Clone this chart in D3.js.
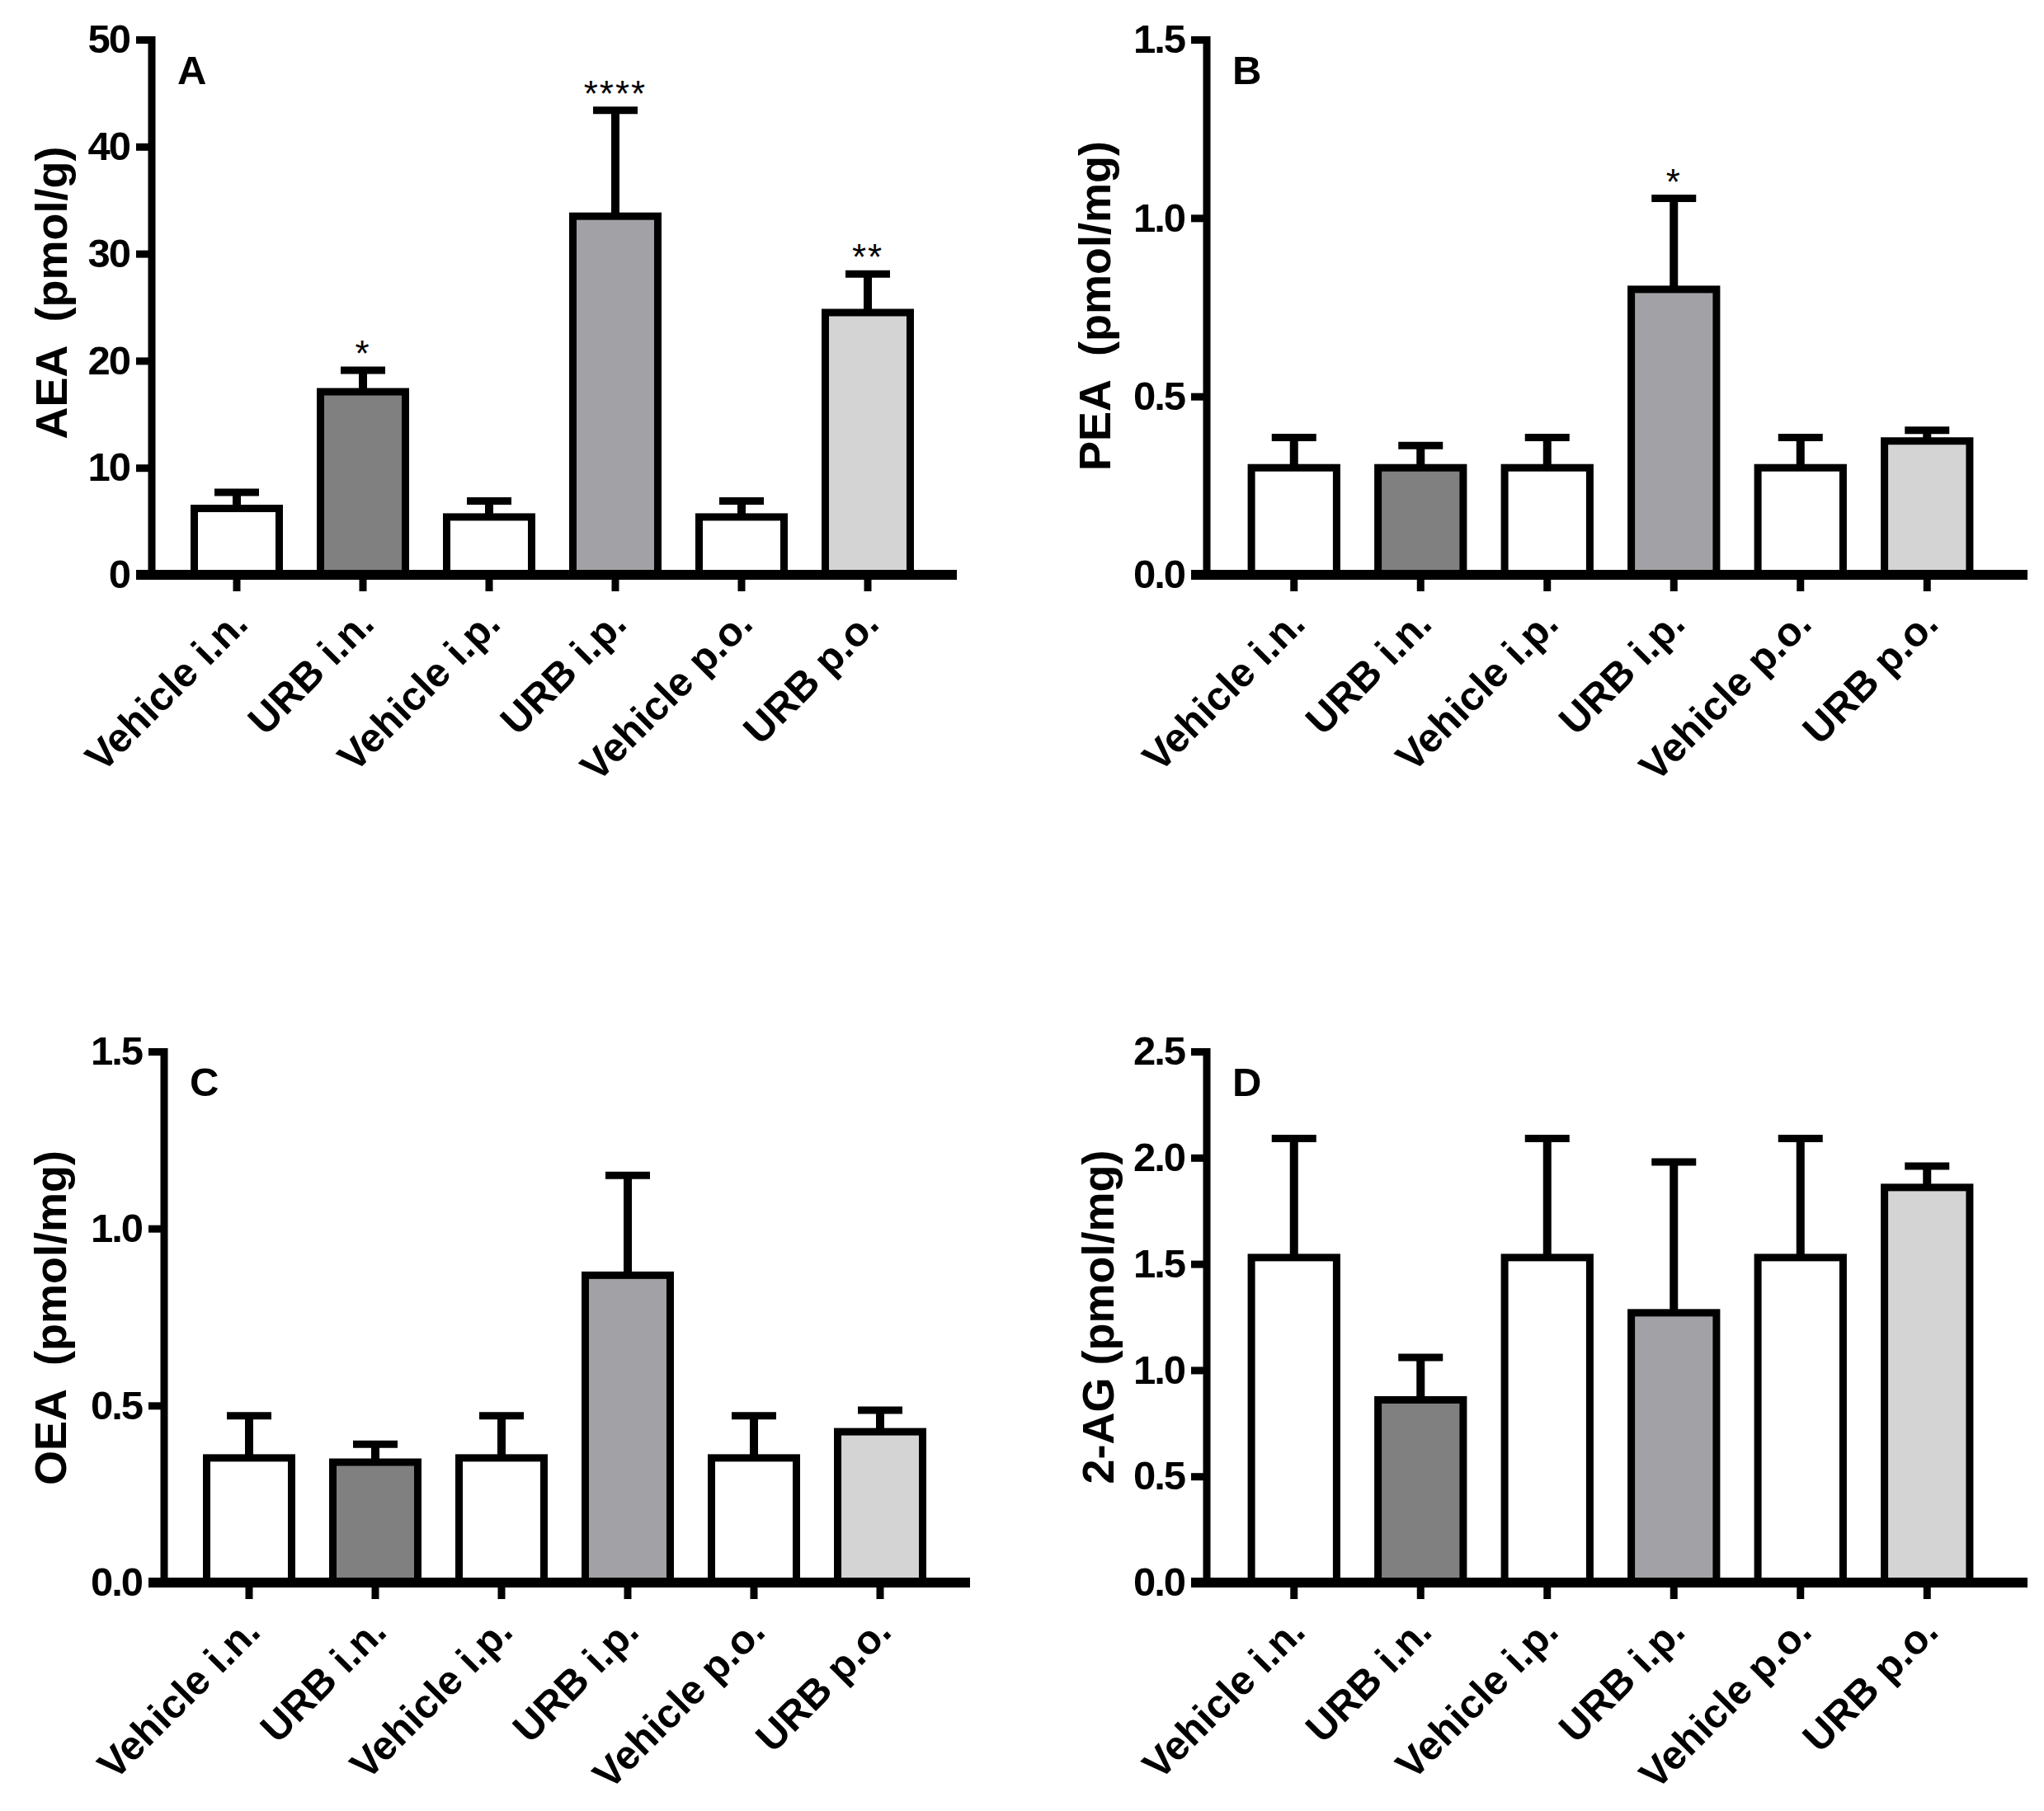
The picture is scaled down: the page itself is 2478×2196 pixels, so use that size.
<!DOCTYPE html>
<html>
<head>
<meta charset="utf-8">
<script src="https://cdn.jsdelivr.net/npm/d3@7"></script>
<style>
  html, body { margin: 0; padding: 0; background: #ffffff; }
  svg { display: block; }
  text { font-family: "Liberation Sans", Arial, Helvetica, sans-serif; fill: #000; }
</style>
</head>
<body>
<svg id="chart" width="2478" height="2196"></svg>
<script>
// ---------------- data ----------------
const categories = ["Vehicle i.n.", "URB i.n.", "Vehicle i.p.", "URB i.p.", "Vehicle p.o.", "URB p.o."];
const barColors = ["#ffffff", "#808080", "#ffffff", "#a2a2a6", "#ffffff", "#d4d4d4"];

// AEA (pmol/g) - panel A
const aeaMeans = [6.2, 17.1, 5.4, 33.5, 5.4, 24.5];
const aeaUpper = [7.7, 19.1, 6.9, 43.4, 6.9, 28.1];
const aeaStars = ["", "*", "", "****", "", "**"];
const aeaTicks = [0, 10, 20, 30, 40, 50];

// PEA (pmol/mg) - panel B
const peaMeans = [0.30, 0.30, 0.30, 0.80, 0.30, 0.375];
const peaUpper = [0.385, 0.362, 0.385, 1.055, 0.385, 0.405];
const peaStars = ["", "", "", "*", "", ""];
const peaTicks = [0.0, 0.5, 1.0, 1.5];

// OEA (pmol/mg) - panel C
const oeaMeans = [0.352, 0.340, 0.352, 0.868, 0.352, 0.426];
const oeaUpper = [0.471, 0.391, 0.471, 1.150, 0.471, 0.487];
const oeaStars = ["", "", "", "", "", ""];
const oeaTicks = [0.0, 0.5, 1.0, 1.5];

// 2-AG (pmol/mg) - panel D
const agMeans = [1.53, 0.86, 1.53, 1.27, 1.53, 1.86];
const agUpper = [2.09, 1.06, 2.09, 1.98, 2.09, 1.96];
const agStars = ["", "", "", "", "", ""];
const agTicks = [0.0, 0.5, 1.0, 1.5, 2.0, 2.5];

// ---------------- panels ----------------
const panels = [
  { letter: "A", title: "AEA  (pmol/g)", means: aeaMeans, upper: aeaUpper, stars: aeaStars, ticks: aeaTicks, fmt: d3.format("d"),
    axisX: 184, yTop: 48, yZero: 697, bandStart: 210.5, step: 153, xEnd: 1160, titleX: 81, titleY: 355 },
  { letter: "B", title: "PEA  (pmol/mg)", means: peaMeans, upper: peaUpper, stars: peaStars, ticks: peaTicks, fmt: d3.format(".1f"),
    axisX: 1463, yTop: 48, yZero: 697, bandStart: 1492, step: 153.5, xEnd: 2458, titleX: 1346, titleY: 371 },
  { letter: "C", title: "OEA  (pmol/mg)", means: oeaMeans, upper: oeaUpper, stars: oeaStars, ticks: oeaTicks, fmt: d3.format(".1f"),
    axisX: 199, yTop: 1275, yZero: 1919, bandStart: 225.5, step: 153, xEnd: 1176, titleX: 80, titleY: 1598 },
  { letter: "D", title: "2-AG (pmol/mg)", means: agMeans, upper: agUpper, stars: agStars, ticks: agTicks, fmt: d3.format(".1f"),
    axisX: 1463, yTop: 1275, yZero: 1919, bandStart: 1492, step: 153.5, xEnd: 2458, titleX: 1350, titleY: 1597 }
];

const svg = d3.select("#chart");
svg.append("rect").attr("width", 2478).attr("height", 2196).attr("fill", "#fff");

const BAR_STROKE = 9;
const CAP_W = 54;

panels.forEach(p => {
  const g = svg.append("g");
  const yMax = p.ticks[p.ticks.length - 1];
  const y = d3.scaleLinear().domain([0, yMax]).range([p.yZero, p.yTop]);
  const x = d3.scaleBand().domain(categories)
    .range([p.bandStart, p.bandStart + p.step * categories.length])
    .paddingInner(0.327).paddingOuter(0.1635);

  const rows = categories.map((c, i) => ({ cat: c, mean: p.means[i], upper: p.upper[i], star: p.stars[i], color: barColors[i] }));

  // error bars (upper only) - vertical line
  g.selectAll("line.err").data(rows).join("line")
    .attr("class", "err")
    .attr("x1", d => x(d.cat) + x.bandwidth() / 2)
    .attr("x2", d => x(d.cat) + x.bandwidth() / 2)
    .attr("y1", d => y(d.mean))
    .attr("y2", d => y(d.upper))
    .attr("stroke", "#000").attr("stroke-width", 10);
  // caps
  g.selectAll("line.cap").data(rows).join("line")
    .attr("class", "cap")
    .attr("x1", d => x(d.cat) + x.bandwidth() / 2 - CAP_W / 2)
    .attr("x2", d => x(d.cat) + x.bandwidth() / 2 + CAP_W / 2)
    .attr("y1", d => y(d.upper))
    .attr("y2", d => y(d.upper))
    .attr("stroke", "#000").attr("stroke-width", 9);

  // bars
  g.selectAll("rect.bar").data(rows).join("rect")
    .attr("class", "bar")
    .attr("x", d => x(d.cat))
    .attr("width", x.bandwidth())
    .attr("y", d => y(d.mean))
    .attr("height", d => y(0) - y(d.mean))
    .attr("fill", d => d.color)
    .attr("stroke", "#000").attr("stroke-width", BAR_STROKE)
    .attr("stroke-linejoin", "miter");

  // significance stars
  g.selectAll("text.star").data(rows.filter(d => d.star)).join("text")
    .attr("class", "star")
    .attr("x", d => x(d.cat) + x.bandwidth() / 2)
    .attr("y", d => y(d.upper) - 5)
    .attr("text-anchor", "middle")
    .attr("font-size", 44)
    .attr("letter-spacing", 2)
    .attr("fill", "#1a1a2a")
    .text(d => d.star);

  // y axis
  const yAxis = d3.axisLeft(y).tickValues(p.ticks).tickFormat(p.fmt).tickSize(19).tickSizeOuter(0).tickPadding(8);
  const ya = g.append("g").attr("transform", `translate(${p.axisX},0)`).call(yAxis);
  ya.select(".domain").attr("stroke", "#000").attr("stroke-width", 9)
    .attr("d", `M0,${p.yZero}V${p.yTop - 4}`);
  ya.selectAll(".tick line").attr("stroke", "#000").attr("stroke-width", 9);
  ya.selectAll(".tick text")
    .attr("font-size", 49).attr("font-weight", "bold").attr("letter-spacing", -2)
    .attr("font-family", "'Liberation Sans', Arial, sans-serif")
    .attr("fill", "#000");

  // x axis line
  g.append("line")
    .attr("x1", p.axisX - 19).attr("x2", p.xEnd)
    .attr("y1", y(0)).attr("y2", y(0))
    .attr("stroke", "#000").attr("stroke-width", 12);

  // x ticks
  const xAxis = d3.axisBottom(x).tickSize(20).tickSizeOuter(0).tickFormat("");
  const xa = g.append("g").attr("transform", `translate(0,${y(0)})`).call(xAxis);
  xa.select(".domain").remove();
  xa.selectAll(".tick line").attr("stroke", "#000").attr("stroke-width", 9);

  // category labels rotated -45
  g.selectAll("text.cat").data(categories).join("text")
    .attr("class", "cat")
    .attr("text-anchor", "end")
    .attr("font-size", 49).attr("font-weight", "bold")
    .attr("transform", d => `translate(${x(d) + x.bandwidth() / 2 + 16},${y(0) + 62}) rotate(-45)`)
    .text(d => d);

  // y title
  g.append("text")
    .attr("text-anchor", "middle")
    .attr("font-size", 54).attr("font-weight", "bold")
    .attr("transform", `translate(${p.titleX},${p.titleY}) rotate(-90)`)
    .attr("xml:space", "preserve")
    .style("white-space", "pre")
    .text(p.title);

  // panel letter
  g.append("text")
    .attr("x", p.axisX + 31).attr("y", p.yTop + 54)
    .attr("font-size", 49).attr("font-weight", "bold")
    .text(p.letter);
});
</script>
</body>
</html>
